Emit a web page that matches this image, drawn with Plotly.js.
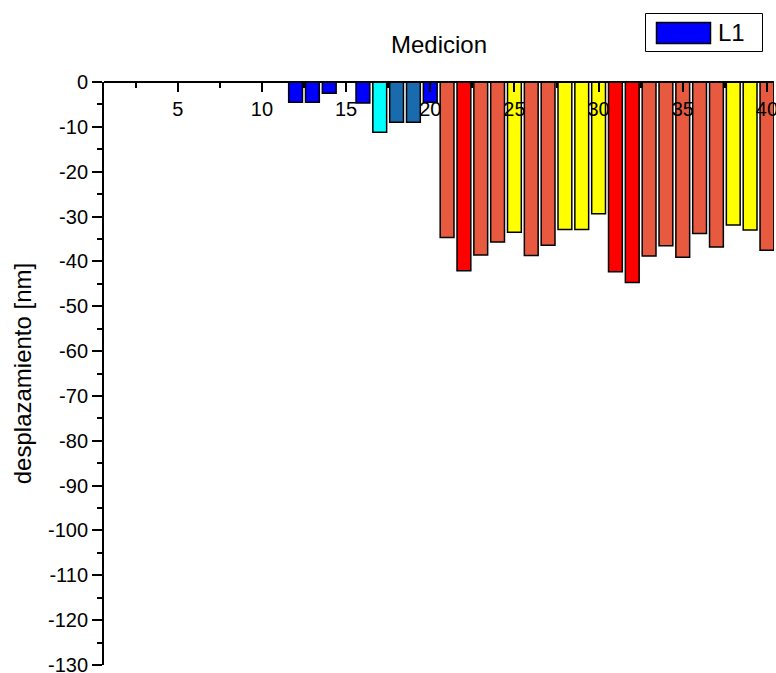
<!DOCTYPE html>
<html>
<head>
<meta charset="utf-8">
<script src="https://cdn.plot.ly/plotly-3.0.1.min.js"></script>
<style>html,body{margin:0;padding:0;background:#fff;}#chart{width:776px;height:673px;}</style>
</head>
<body>
<div id="chart"></div>
<script>
// Measurement index
const positions = [12, 13, 14, 16, 17, 18, 19, 20, 21, 22, 23, 24, 25, 26, 27, 28, 29, 30,
                   31, 32, 33, 34, 35, 36, 37, 38, 39, 40];
// Displacement values [nm]
const values = [-4.5, -4.5, -2.5, -4.7, -11.2, -9.0, -9.0, -4.5, -34.7, -42.1, -38.6, -35.7, -33.5, -38.7, -36.4, -32.9, -32.9, -29.4,
                -42.3, -44.7, -38.8, -36.5, -39.1, -33.8, -36.8, -31.9, -33.0, -37.5];
// Colour category of each bar
const colorGroups = ['blue', 'blue', 'blue', 'blue', 'cyan', 'steel', 'steel', 'blue', 'tomato', 'red', 'tomato', 'tomato', 'yellow', 'tomato', 'tomato', 'yellow', 'yellow', 'yellow',
                     'red', 'red', 'tomato', 'tomato', 'tomato', 'tomato', 'tomato', 'yellow', 'yellow', 'tomato'];
const xTickVals = [5, 10, 15, 20, 25, 30, 35, 40];
const yTickVals = [0, -10, -20, -30, -40, -50, -60, -70, -80, -90, -100, -110, -120, -130];
const seriesName = 'L1';

const palette = {blue: '#0000ff', cyan: '#00ffff', steel: '#1a6aae', tomato: '#e85a40', red: '#ff0000', yellow: '#ffff00'};
const font = 'Liberation Sans, Arial, sans-serif';

const trace = {
  type: 'bar',
  x: positions,
  y: values,
  name: seriesName,
  width: 0.82,
  marker: {color: colorGroups.map(c => palette[c]), line: {color: '#000', width: 1.5}},
  showlegend: false
};

// Legend box drawn in paper pixels (converted to paper fractions)
const L = 104, PW = 670, T = 82, PH = 583;
const px = v => (v - L) / PW;
const py = v => (T + PH - v) / PH;

const layout = {
  width: 776, height: 673,
  margin: {l: 104, r: 2, t: 82, b: 8, pad: 0},
  paper_bgcolor: '#fff', plot_bgcolor: '#fff',
  font: {family: font, color: '#000', size: 20},
  title: {text: 'Medicion', font: {family: font, size: 24, color: '#000'}, x: 0.5, xref: 'paper', xanchor: 'center', y: 1 - 45/673, yanchor: 'middle'},
  xaxis: {
    range: [0.62, 40.42], anchor: 'free', position: 1, side: 'bottom',
    showline: true, linecolor: '#000', linewidth: 2,
    ticks: 'outside', ticklen: 9, tickwidth: 2, tickcolor: '#000',
    tickvals: xTickVals, ticktext: xTickVals.map(String),
    tickfont: {family: font, size: 20, color: '#000'},
    ticklabeloverflow: 'allow',
    minor: {dtick: 2.5, tick0: 0, ticks: 'outside', ticklen: 5, tickwidth: 2, tickcolor: '#000'},
    showgrid: false, zeroline: false, fixedrange: true
  },
  yaxis: {
    range: [-130, 0],
    showline: true, linecolor: '#000', linewidth: 2,
    ticks: 'outside', ticklen: 10, tickwidth: 2, tickcolor: '#000',
    tickvals: yTickVals, ticktext: yTickVals.map(String),
    tickfont: {family: font, size: 20, color: '#000'},
    ticklabeloverflow: 'allow',
    minor: {dtick: 5, tick0: 0, ticks: 'outside', ticklen: 5, tickwidth: 2, tickcolor: '#000'},
    title: {text: 'desplazamiento [nm]', font: {family: font, size: 24, color: '#000'}, standoff: 10},
    showgrid: false, zeroline: false, automargin: false, fixedrange: true
  },
  showlegend: false,
  shapes: [
    {type: 'rect', xref: 'paper', yref: 'paper', x0: px(645.5), x1: px(762.5), y0: py(51.5), y1: py(13.5),
     line: {color: '#000', width: 1}, fillcolor: '#fff', layer: 'above'},
    {type: 'rect', xref: 'paper', yref: 'paper', x0: px(656.5), x1: px(710.5), y0: py(43.5), y1: py(22.5),
     line: {color: '#000', width: 1.5}, fillcolor: palette.blue, layer: 'above'}
  ],
  annotations: [
    {text: seriesName, xref: 'paper', yref: 'paper', x: px(716), y: py(33), xanchor: 'left', yanchor: 'middle',
     showarrow: false, font: {family: font, size: 24, color: '#000'}}
  ]
};

Plotly.newPlot('chart', [trace], layout, {displayModeBar: false, staticPlot: true});
</script>
</body>
</html>
